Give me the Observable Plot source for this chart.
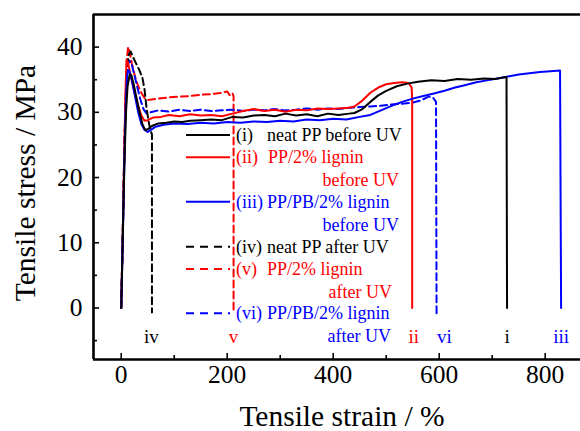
<!DOCTYPE html>
<html><head><meta charset="utf-8">
<script src="https://cdn.jsdelivr.net/npm/d3@7"></script>
<script src="https://cdn.jsdelivr.net/npm/@observablehq/plot@0.6"></script>
<style>
body{margin:0;background:#fff}
#chart{position:relative;width:580px;height:431px}
</style></head><body><div id="chart"></div>
<script>
// ---- data ----
const strainI  = [0,3,6,9,12,16,19,23,28,34,40,45,50,58,70,85,100,115,130,150,170,190,210,230,250,270,290,310,330,350,370,390,410,430,440,455,470,485,500,520,540,560,585,610,635,660,685,705,727,728];
const stressI  = [0,11,22,30,34,35.8,35.7,34.5,32.5,30.2,28.2,27.3,27.4,27.9,28.3,28.4,28.6,28.5,28.7,28.8,28.9,28.8,29.3,29.2,29.5,29.6,29.4,29.8,29.5,29.7,29.4,29.8,29.6,29.8,29.9,30.5,31.6,32.6,33.3,34.0,34.4,34.7,34.9,34.8,35.1,35.0,35.2,35.1,35.4,0];

const strainII = [0,3,6,8,10,13,18,25,32,38,44,50,60,75,90,110,130,150,170,190,210,230,250,270,290,310,330,350,370,390,410,430,440,455,470,485,500,515,530,542,548,549,549];
const stressII = [0,12,25,33,38.0,37.6,35.5,33,31,29.5,28.7,28.8,29.2,29.3,29.6,29.4,29.7,29.5,29.6,29.4,29.8,30.2,30.5,30.2,30.4,30.1,30.4,30.3,30.6,30.5,30.6,30.7,30.9,31.8,33.0,33.8,34.3,34.5,34.6,34.5,33.8,32,0];

const strainIII = [0,3,6,8,11,13,16,20,26,32,38,44,50,56,65,80,100,125,150,175,200,225,250,275,300,325,350,375,400,425,450,470,490,510,530,550,570,590,610,630,650,670,690,710,730,750,770,790,810,828,830];
const stressIII = [0,11,23,30,35.5,36.5,36.2,35,32.5,30,28.2,27.3,27.0,27.3,27.8,28.1,28.3,28.2,28.4,28.3,28.5,28.4,28.6,28.5,28.7,28.6,28.9,28.8,29.0,28.9,29.3,29.6,30.3,31.0,31.6,32.1,32.5,32.9,33.3,33.8,34.2,34.6,34.9,35.2,35.5,35.8,36.0,36.2,36.3,36.4,0];

const strainIV = [0,3,6,9,12,15,18,22,28,34,40,44,48,52,55,58,58];
const stressIV = [0,12,25,33,37.5,39.0,39.3,38.5,37.5,36.5,35.3,33.5,30.5,28.5,27.3,26.6,-0.7];

const strainV = [0,3,6,9,11,13,16,20,26,32,38,44,50,70,90,110,130,150,170,190,200,205,210,212,212];
const stressV = [0,12,25,34,38.5,40.0,39.3,37.5,35.5,34,33,32.2,31.9,32.1,32.3,32.4,32.5,32.7,32.8,33.0,33.2,32.6,32.9,32.5,-0.8];

const strainVI = [0,3,6,9,12,15,19,24,30,36,42,48,55,70,90,110,130,150,170,190,210,230,250,270,290,310,330,350,370,390,410,430,450,470,490,510,530,550,565,580,588,594,595];
const stressVI = [0,11,24,33,37,37.9,37.6,36,34,32,30.5,29.8,30.0,30.3,30.1,30.4,30.2,30.4,30.2,30.3,30.4,30.2,30.4,30.3,30.5,30.3,30.4,30.6,30.4,30.6,30.5,30.7,30.8,30.9,31.0,31.2,31.3,31.5,31.8,32.4,32.3,31.6,-0.8];

const seriesKeys   = ["i","ii","iii","iv","v","vi"];
const seriesNames  = ["neat PP before UV","PP/2% lignin","PP/PB/2% lignin","neat PP after UV","PP/2% lignin","PP/PB/2% lignin"];
const seriesCont   = ["","before UV","before UV","","after UV","after UV"];
const labelStrain  = [728, 552, 830, 57, 212, 610];   // where the numerals sit under each break
const xMajor = [0,200,400,600,800];
const xMinor = [100,300,500,700];
const yMajor = [0,10,20,30,40];
const yMinor = [-5,5,15,25,35];

// ---- styles ----
const colors = {i:"#000000", ii:"#ff0000", iii:"#0000ff", iv:"#000000", v:"#ff0000", vi:"#0000ff"};
const dashed = {i:false, ii:false, iii:false, iv:true, v:true, vi:true};
const serif = "'Liberation Serif','Times New Roman',serif";

const strains = [strainI, strainII, strainIII, strainIV, strainV, strainVI];
const stresses = [stressI, stressII, stressIII, stressIV, stressV, stressVI];
const tables = seriesKeys.map((k, j) => strains[j].map((s, n) => ({series: k, strain: s, stress: stresses[j][n]})));
const labels = seriesKeys.map((k, j) => ({key: k, strain: labelStrain[j], stress: -4.4}));

const xMin = -52.3, xMax = 866.6, yMin = -7.9, yMax = 45;
const drawOrder = [4, 5, 3, 1, 2, 0];

const plot = Plot.plot({
  width: 580, height: 431,
  marginLeft: 93, marginRight: 0, marginTop: 14, marginBottom: 72,
  style: {fontFamily: serif, background: "#fff", overflow: "visible"},
  x: {domain: [xMin, xMax]},
  y: {domain: [yMin, yMax]},
  marks: [
    ...drawOrder.map(j => Plot.line(tables[j], {
      x: "strain", y: "stress",
      stroke: colors[seriesKeys[j]], strokeWidth: 2,
      strokeDasharray: dashed[seriesKeys[j]] ? "7,4" : null
    })),
    Plot.text(labels, {x: "strain", y: "stress", text: "key",
      fill: d => colors[d.key], fontSize: 19, fontFamily: serif, lineAnchor: "middle"}),
    Plot.axisX({ticks: xMajor, tickSize: -6, fill: "none", strokeWidth: 1.6, label: null}),
    Plot.axisX({ticks: xMinor, tickSize: -4, fill: "none", strokeWidth: 1.6, label: null}),
    Plot.axisX({ticks: xMajor, tickSize: 0, tickPadding: 5, fontSize: 25.5, fontFamily: serif, fill: "#000", label: null}),
    Plot.axisY({ticks: yMajor, tickSize: -6, fill: "none", strokeWidth: 1.6, label: null}),
    Plot.axisY({ticks: yMinor, tickSize: -4, fill: "none", strokeWidth: 1.6, label: null}),
    Plot.axisY({ticks: yMajor, tickSize: 0, tickPadding: 11, fontSize: 25.5, fontFamily: serif, fill: "#000", label: null}),
    Plot.ruleX([xMin], {stroke: "#000", strokeWidth: 2.6}),
    Plot.ruleY([yMin, yMax], {stroke: "#000", strokeWidth: 2.6}),
    Plot.text(["Tensile strain / %"], {frameAnchor: "bottom", textAnchor: "middle", dx: 5, dy: 57, fontSize: 29.5, fontFamily: serif, fill: "#000", lineAnchor: "middle"}),
    Plot.text(["Tensile stress / MPa"], {frameAnchor: "left", textAnchor: "middle", dx: -68, dy: -4, rotate: -90, fontSize: 29.5, fontFamily: serif, fill: "#000", lineAnchor: "middle"})
  ]
});
document.getElementById("chart").appendChild(plot);

// ---- legend (drawn inside the plot area) ----
const svg = d3.select(plot);
const g = svg.append("g").attr("font-family", serif).attr("font-size", 18).attr("text-anchor", "start");
const rowY  = [135, 157.3, 201.7, 246.7, 269, 313.3];
const contY = [0, 180, 225, 0, 291.5, 335.5];
const textX = [267, 268, 267, 267, 267, 267];
const contRight = [0, 399, 399, 0, 392, 391];
seriesKeys.forEach((k, j) => {
  g.append("line").attr("x1", 186).attr("x2", 230).attr("y1", rowY[j]).attr("y2", rowY[j])
    .attr("stroke", colors[k]).attr("stroke-width", 2)
    .attr("stroke-dasharray", dashed[k] ? "8,6" : null);
  g.append("text").attr("x", 236).attr("y", rowY[j]).attr("dominant-baseline", "central")
    .attr("text-anchor", "start").attr("fill", colors[k]).text("(" + k + ")");
  g.append("text").attr("x", textX[j]).attr("y", rowY[j]).attr("dominant-baseline", "central")
    .attr("text-anchor", "start").attr("fill", colors[k]).text(seriesNames[j]);
  if (seriesCont[j]) {
    g.append("text").attr("x", contRight[j]).attr("y", contY[j]).attr("dominant-baseline", "central")
      .attr("text-anchor", "end").attr("fill", colors[k]).text(seriesCont[j]);
  }
});
</script></body></html>
